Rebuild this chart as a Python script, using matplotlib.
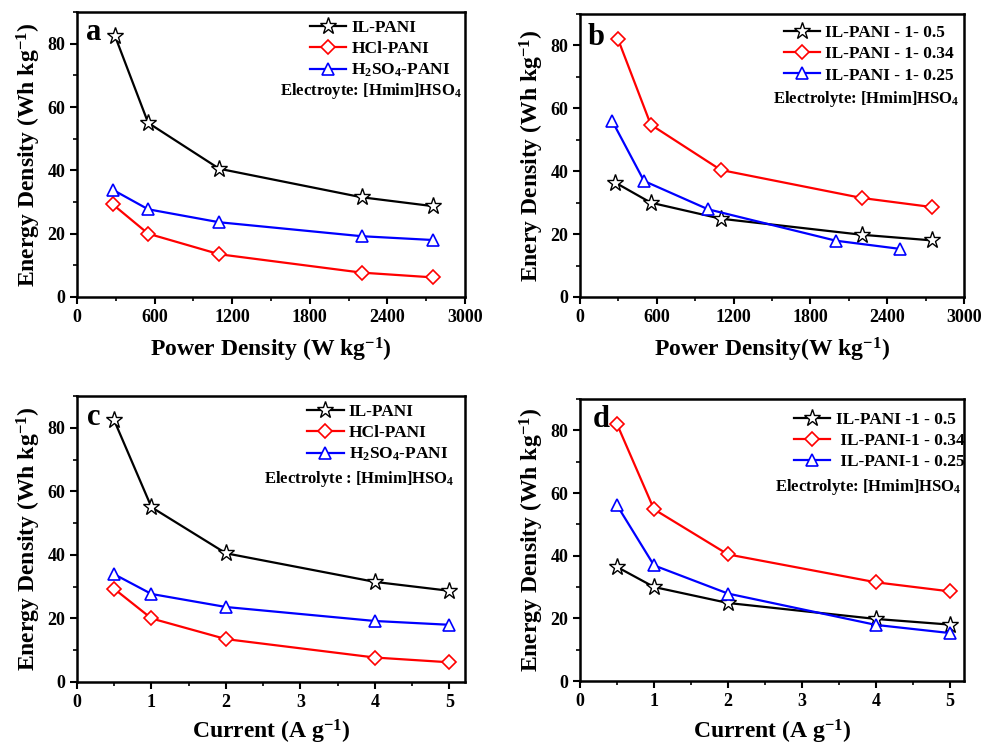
import matplotlib
matplotlib.use("Agg")
import matplotlib.pyplot as plt
from matplotlib.ticker import MultipleLocator

plt.rcParams['font.family'] = ['Liberation Serif', 'DejaVu Serif']
plt.rcParams['font.weight'] = 'bold'
plt.rcParams['mathtext.fontset'] = 'custom'
plt.rcParams['mathtext.rm'] = 'Liberation Serif:bold'
plt.rcParams['mathtext.bf'] = 'Liberation Serif:bold'
plt.rcParams['mathtext.it'] = 'Liberation Serif:bold'
plt.rcParams['mathtext.default'] = 'bf'

# ---- data ----
# panel a (power density vs energy density, different acids)
pd_a_il = [295, 550, 1100, 2200, 2750]
pd_a_other = [275, 550, 1100, 2200, 2750]
ed_il = [82.3, 55.0, 40.5, 31.5, 28.7]
ed_hcl = [29.3, 20.0, 13.5, 7.7, 6.2]
ed_h2so4 = [33.9, 27.7, 23.6, 19.2, 18.0]

# panel b (power density vs energy density, different ratios)
pd_b_05 = [275, 553, 1100, 2200, 2750]
pd_b_034 = [297, 553, 1100, 2200, 2750]
pd_b_025 = [250, 500, 1000, 2000, 2500]
ed_05 = [36.4, 30.0, 24.9, 19.8, 18.0]
ed_034 = [82.0, 54.8, 40.4, 31.5, 28.6]
ed_025 = [56.1, 36.9, 27.9, 17.9, 15.3]

# panels c, d (current density)
current = [0.5, 1, 2, 4, 5]

labels_a = ['IL-PANI', 'HCl-PANI', 'H$_2$SO$_4$-PANI']
labels_b = ['IL-PANI - 1- 0.5', 'IL-PANI - 1- 0.34', 'IL-PANI - 1- 0.25']
labels_c = ['IL-PANI', 'HCl-PANI', 'H$_2$SO$_4$-PANI']
labels_d = ['IL-PANI -1 - 0.5', ' IL-PANI-1 - 0.34', ' IL-PANI-1 - 0.25']

W, H = 982, 745
fig = plt.figure(figsize=(W / 100, H / 100), dpi=100)


def make_ax(l, r, t, b):
    return fig.add_axes([l / W, 1 - b / H, (r - l) / W, (b - t) / H])


def style(ax, xlim, xmajor, xminor, xlabel, ylabel, xpad=7):
    ax.set_xlim(*xlim)
    ax.set_ylim(0, 90)
    ax.xaxis.set_major_locator(MultipleLocator(xmajor))
    ax.xaxis.set_minor_locator(MultipleLocator(xminor))
    ax.yaxis.set_major_locator(MultipleLocator(20))
    ax.yaxis.set_minor_locator(MultipleLocator(10))
    ax.tick_params(which='major', direction='out', length=5, width=1.5,
                   labelsize=13, top=False, right=False)
    ax.tick_params(which='minor', direction='out', length=3, width=1.2,
                   top=False, right=False)
    for lab in ax.get_xticklabels() + ax.get_yticklabels():
        lab.set_fontweight('bold')
    for s in ax.spines.values():
        s.set_linewidth(1.8)
    ax.set_xlabel(xlabel, fontsize=17, fontweight='bold', labelpad=xpad)
    ax.set_ylabel(ylabel, fontsize=17, fontweight='bold', labelpad=3)


def plot3(ax, xs, ys, labels):
    ax.plot(xs[0], ys[0], color='black', marker='*', markersize=12.5,
            markerfacecolor='white', markeredgewidth=1.0, linewidth=1.6, label=labels[0])
    ax.plot(xs[1], ys[1], color='red', marker='D', markersize=7.5,
            markerfacecolor='white', markeredgewidth=1.2, linewidth=1.6, label=labels[1])
    ax.plot(xs[2], ys[2], color='blue', marker='^', markersize=9,
            markerfacecolor='white', markeredgewidth=1.2, linewidth=1.6, label=labels[2])


def legend(ax, x, y):
    ax.legend(loc='upper left', bbox_to_anchor=(x, y), frameon=False,
              prop={'family': 'Liberation Serif', 'weight': 'bold', 'size': 12.5},
              handlelength=2.1, handletextpad=0.3, labelspacing=0.28,
              borderpad=0, borderaxespad=0)


# panel a
ax = make_ax(77, 465, 12, 297)
plot3(ax, [pd_a_il, pd_a_other, pd_a_other], [ed_il, ed_hcl, ed_h2so4], labels_a)
style(ax, (0, 3000), 600, 300, 'Power Density (W kg$^{-1}$)', 'Energy Density (Wh kg$^{-1}$)')
legend(ax, 0.60, 0.972)
ax.text(0.992, 0.71, 'Electroyte: [Hmim]HSO$_4$', transform=ax.transAxes,
        ha='right', va='baseline', fontsize=12, fontweight='bold')
ax.text(0.023, 0.90, 'a', transform=ax.transAxes, fontsize=22, fontweight='bold', va='baseline')

# panel b
ax = make_ax(580, 964, 14, 297)
ax.plot(pd_b_05, ed_05, color='black', marker='*', markersize=12.5,
        markerfacecolor='white', markeredgewidth=1.0, linewidth=1.6, label=labels_b[0])
ax.plot(pd_b_034, ed_034, color='red', marker='D', markersize=7.5,
        markerfacecolor='white', markeredgewidth=1.2, linewidth=1.6, label=labels_b[1])
ax.plot(pd_b_025, ed_025, color='blue', marker='^', markersize=9,
        markerfacecolor='white', markeredgewidth=1.2, linewidth=1.6, label=labels_b[2])
style(ax, (0, 3000), 600, 300, 'Power Density(W kg$^{-1}$)', 'Enery Density (Wh kg$^{-1}$)')
legend(ax, 0.53, 0.96)
ax.text(0.987, 0.685, 'Electrolyte: [Hmim]HSO$_4$', transform=ax.transAxes,
        ha='right', va='baseline', fontsize=12, fontweight='bold')
ax.text(0.02, 0.89, 'b', transform=ax.transAxes, fontsize=22, fontweight='bold', va='baseline')

# panel c
ax = make_ax(77, 465, 396, 682)
plot3(ax, [current] * 3, [ed_il, ed_hcl, ed_h2so4], labels_c)
style(ax, (0, 5.21), 1, 0.5, 'Current (A g$^{-1}$)', 'Energy Density (Wh kg$^{-1}$)', xpad=5)
legend(ax, 0.593, 0.972)
ax.text(0.974, 0.695, 'Electrolyte : [Hmim]HSO$_4$', transform=ax.transAxes,
        ha='right', va='baseline', fontsize=12, fontweight='bold')
ax.text(0.026, 0.90, 'c', transform=ax.transAxes, fontsize=22, fontweight='bold', va='baseline')

# panel d
ax = make_ax(580, 964, 399, 681)
plot3(ax, [current] * 3, [ed_05, ed_034, ed_025], labels_d)
style(ax, (0, 5.19), 1, 0.5, 'Current (A g$^{-1}$)', 'Energy Density (Wh kg$^{-1}$)', xpad=6)
legend(ax, 0.557, 0.955)
ax.text(0.992, 0.675, 'Electrolyte: [Hmim]HSO$_4$', transform=ax.transAxes,
        ha='right', va='baseline', fontsize=12, fontweight='bold')
ax.text(0.034, 0.90, 'd', transform=ax.transAxes, fontsize=22, fontweight='bold', va='baseline')

fig.savefig('out.png', dpi=100)
